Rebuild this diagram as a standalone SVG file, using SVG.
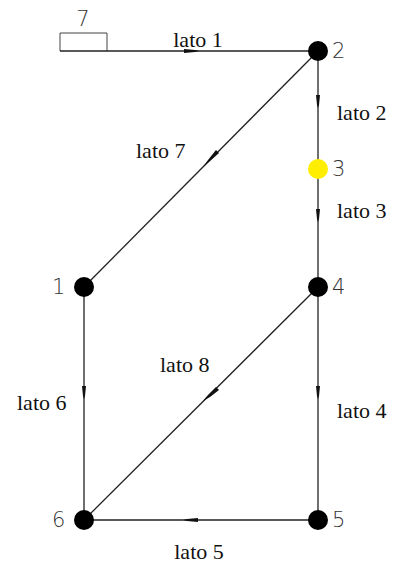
<svg xmlns="http://www.w3.org/2000/svg" width="393" height="567" viewBox="0 0 393 567">
<style>
.e{stroke:#222;stroke-width:1.3;fill:none}
.d{stroke:#444;stroke-width:1;fill:none}
.n{fill:#000}
.lb{font-family:"Liberation Serif",serif;font-size:22px;fill:#111}
.num{font-family:"DejaVu Sans","Liberation Sans",sans-serif;font-size:21px;fill:#333;font-weight:200}
.ar{fill:#111}
</style>
<rect width="393" height="567" fill="#fff"/>
<g id="dim">
<path class="d" d="M60 51V33H107V51"/>
<text class="num" x="83" y="26" text-anchor="middle">7</text>
</g>
<g id="connectors">
<path class="e" d="M60 51H318"/>
<path class="e" d="M318 51V520"/>
<path class="e" d="M318 51L84 287"/>
<path class="e" d="M84 287V520"/>
<path class="e" d="M318 287L84 520"/>
<path class="e" d="M84 520H318"/>
<polygon class="ar" points="184,49 195,50 199,51 195,52 184,53"/>
<polygon class="ar" points="316,95 317,105 318,108 319,105 320,95"/>
<polygon class="ar" points="316,209 317,219 318,222 319,219 320,209"/>
<polygon class="ar" points="82,386 83,396 84,399 85,396 86,386"/>
<polygon class="ar" points="316,386 317,396 318,399 319,396 320,386"/>
<polygon class="ar" points="198,518 187,519 183,520 187,521 198,522"/>
<polygon class="ar" points="216,150 208,160 203,167 210,161 219,153"/>
<polygon class="ar" points="216,387 208,395 203,401 210,397 219,390"/>
<text class="lb" x="198" y="47" text-anchor="middle">lato 1</text>
<text class="lb" x="337" y="120">lato 2</text>
<text class="lb" x="337" y="218">lato 3</text>
<text class="lb" x="136" y="158">lato 7</text>
<text class="lb" x="160" y="372">lato 8</text>
<text class="lb" x="17" y="410">lato 6</text>
<text class="lb" x="337" y="418">lato 4</text>
<text class="lb" x="199" y="559" text-anchor="middle">lato 5</text>
</g>
<g id="node1"><circle class="n" cx="84" cy="287" r="10"/><text class="num" x="52" y="294">1</text></g>
<g id="node2"><circle class="n" cx="318" cy="51" r="10"/><text class="num" x="332" y="58">2</text></g>
<g id="node3"><circle cx="318" cy="169" r="10" fill="#ffee00"/><text class="num" x="332" y="176">3</text></g>
<g id="node4"><circle class="n" cx="318" cy="287" r="10"/><text class="num" x="332" y="294">4</text></g>
<g id="node5"><circle class="n" cx="318" cy="520" r="10"/><text class="num" x="332" y="527">5</text></g>
<g id="node6"><circle class="n" cx="84" cy="520" r="10"/><text class="num" x="52" y="527">6</text></g>
</svg>
